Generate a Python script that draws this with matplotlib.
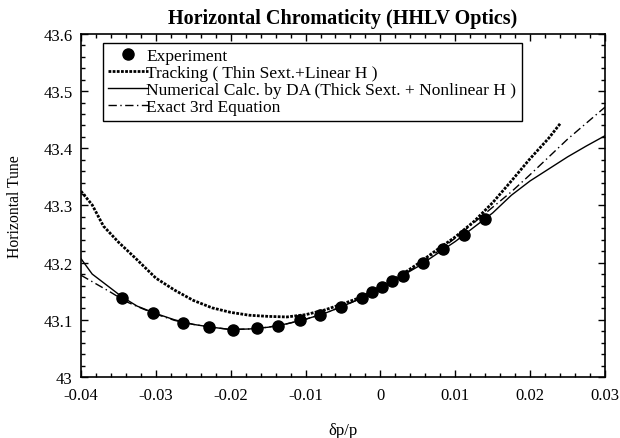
import matplotlib
matplotlib.use('Agg')
import matplotlib.pyplot as plt
from matplotlib.ticker import MultipleLocator

plt.rcParams['font.family'] = ['Liberation Serif', 'DejaVu Serif']
plt.rcParams['mathtext.fontset'] = 'stix'

# experiment points
exp_x = [-0.0345, -0.0304, -0.0264, -0.0229, -0.0197, -0.0165, -0.0137, -0.0107,
         -0.0081, -0.0053, -0.0025, -0.0011, 0.0002, 0.0015, 0.0030, 0.0057,
         0.0084, 0.0112, 0.0140]
exp_y = [43.138, 43.112, 43.095, 43.088, 43.082, 43.086, 43.089, 43.100,
         43.108, 43.122, 43.138, 43.149, 43.157, 43.168, 43.177, 43.199,
         43.224, 43.248, 43.276]

# tracking (thin sext. + linear H)
trk_x = [-0.04, -0.0385, -0.037, -0.035, -0.0325, -0.03, -0.0275, -0.025, -0.0225,
         -0.02, -0.0175, -0.015, -0.0125, -0.01, -0.0075, -0.005, -0.0025, 0.0,
         0.0025, 0.005, 0.0075, 0.01, 0.0125, 0.015, 0.0175, 0.02, 0.0225, 0.024]
trk_y = [43.325, 43.301, 43.264, 43.236, 43.205, 43.173, 43.152, 43.134, 43.121,
         43.113, 43.108, 43.106, 43.105, 43.109, 43.117, 43.128, 43.140, 43.158,
         43.176, 43.198, 43.222, 43.245, 43.272, 43.305, 43.343, 43.382, 43.418, 43.443]

# numerical calc. by DA
da_x = [-0.04, -0.0385, -0.036, -0.0345, -0.0325, -0.03, -0.0275, -0.025, -0.0225,
        -0.02, -0.0175, -0.015, -0.0125, -0.01, -0.0075, -0.005, -0.0025, 0.0,
        0.0025, 0.005, 0.0075, 0.01, 0.0125, 0.015, 0.0175, 0.02, 0.0225, 0.025,
        0.0275, 0.03]
da_y = [43.207, 43.180, 43.155, 43.140, 43.124, 43.111, 43.100, 43.092, 43.087,
        43.083, 43.084, 43.087, 43.093, 43.101, 43.111, 43.124, 43.138, 43.156,
        43.174, 43.193, 43.215, 43.237, 43.262, 43.287, 43.318, 43.343, 43.364, 43.385,
        43.404, 43.422]

# exact 3rd equation
ex_x = [-0.04, -0.0384, -0.036, -0.034, -0.0317, -0.03, -0.0275, -0.025, -0.0225,
        -0.02, -0.0175, -0.015, -0.0125, -0.01, -0.0075, -0.005, -0.0025, 0.0,
        0.0025, 0.005, 0.0075, 0.01, 0.0125, 0.015, 0.0175, 0.02, 0.0225, 0.025,
        0.0275, 0.03]
ex_y = [43.178, 43.166, 43.148, 43.132, 43.119, 43.110, 43.099, 43.092, 43.087,
        43.083, 43.084, 43.087, 43.093, 43.101, 43.111, 43.124, 43.138, 43.156,
        43.175, 43.195, 43.218, 43.243, 43.270, 43.297, 43.324, 43.354, 43.385, 43.416,
        43.444, 43.472]

fig = plt.figure(figsize=(6.2, 4.39), dpi=100)
ax = fig.add_axes([0.1306, 0.139, 0.8452, 0.7813])

ax.plot(exp_x, exp_y, 'o', color='black', markersize=8, label='Experiment')
ax.plot(trk_x, trk_y, color='black', linewidth=2.0, linestyle=(0, (1, 0.5)),
        label='Tracking ( Thin Sext.+Linear H )')
ax.plot(da_x, da_y, color='black', linewidth=1.0,
        label='Numerical Calc. by DA (Thick Sext. + Nonlinear H )')
ax.plot(ex_x, ex_y, color='black', linewidth=1.0, linestyle=(0, (6, 2.5, 1, 2.5)),
        label='Exact 3rd Equation')

ax.set_xlim(-0.04, 0.03)
ax.set_ylim(43.0, 43.6)
ax.xaxis.set_major_locator(MultipleLocator(0.01))
ax.xaxis.set_minor_locator(MultipleLocator(0.002))
ax.yaxis.set_major_locator(MultipleLocator(0.1))
ax.yaxis.set_minor_locator(MultipleLocator(0.02))
ax.xaxis.set_major_formatter(plt.FuncFormatter(lambda v, p: '0' if abs(v) < 1e-9 else ('%.2f' % v)))
ax.yaxis.set_major_formatter(plt.FuncFormatter(lambda v, p: '43' if abs(v - 43) < 1e-9 else ('%.1f' % v)))
ax.tick_params(which='both', direction='in', top=True, right=True, labelsize=12, width=1)
ax.tick_params(which='major', length=5)
ax.tick_params(axis='x', which='major', pad=7)
ax.tick_params(axis='y', which='major', pad=6)
ax.tick_params(which='minor', length=3)
for s in ax.spines.values():
    s.set_linewidth(1.2)

ax.set_title('Horizontal Chromaticity (HHLV Optics)', fontsize=14.5, fontweight='bold', pad=8)
ax.set_xlabel('δp/p', fontsize=12, labelpad=14)
ax.set_ylabel('Horizontal Tune', fontsize=11.3, labelpad=15)

leg = ax.legend(loc='upper left', bbox_to_anchor=(0.042, 0.974), fontsize=12.5,
                frameon=True, fancybox=False, edgecolor='black', framealpha=1,
                handlelength=2.3, handletextpad=-0.1, labelspacing=0.05,
                borderpad=0.3, borderaxespad=0.0)
leg.get_frame().set_linewidth(1.0)

fig.savefig('out.png', dpi=100)
